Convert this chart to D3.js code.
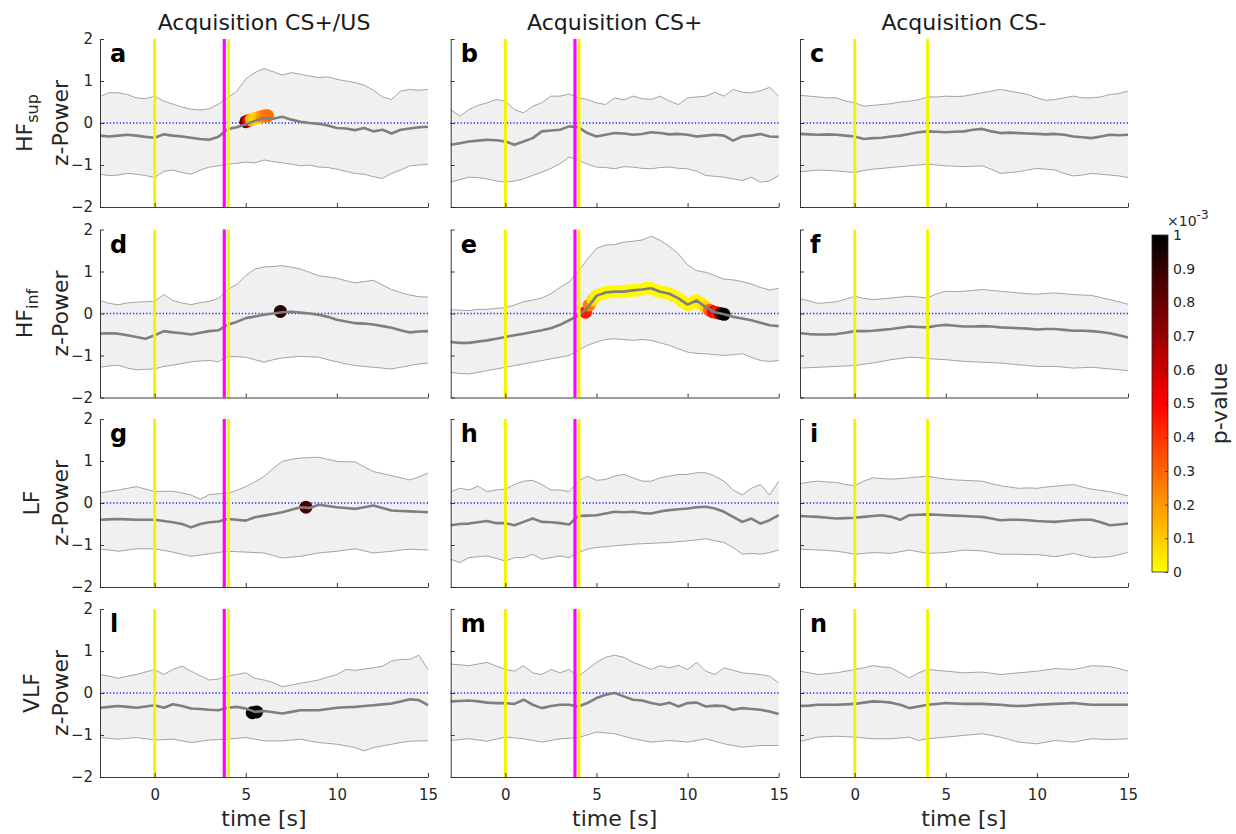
<!DOCTYPE html>
<html><head><meta charset="utf-8">
<script src="https://cdn.jsdelivr.net/npm/d3@7"></script>
<style>body{margin:0;background:#fff;} svg{display:block;font-family:"DejaVu Sans",sans-serif;}</style>
</head><body><svg id="c" width="1236" height="834"></svg>
<script>
// ---------------- data ----------------
const time = [-3,-2.5,-2,-1.5,-1,-0.5,0,0.5,1,1.5,2,2.5,3,3.5,4,4.5,5,5.5,6,6.5,7,7.5,8,8.5,9,9.5,10,10.5,11,11.5,12,12.5,13,13.5,14,14.5,15];
const colTitles = ["Acquisition CS+/US","Acquisition CS+","Acquisition CS-"];
const rowMain = ["HF","HF","LF","VLF"];
const rowSub = ["sup","inf","",""];
const panelLetters = ["a","b","c","d","e","f","g","h","i","l","m","n"];
const yTicks = [-2,-1,0,1,2];
const xTicks = [0,5,10,15];
const cbTicks = [0,0.1,0.2,0.3,0.4,0.5,0.6,0.7,0.8,0.9,1];
const cbTickLabels = ["0","0.1","0.2","0.3","0.4","0.5","0.6","0.7","0.8","0.9","1"];
const csOnset = 0, csOffset = 4, usOnset = 3.82;

const upA = [0.63,0.72,0.72,0.68,0.6,0.58,0.64,0.52,0.45,0.38,0.33,0.31,0.34,0.45,0.6,0.75,1.05,1.2,1.3,1.22,1.14,1.2,1.16,1.12,1.08,1.1,1.04,1.0,0.96,0.9,0.78,0.62,0.56,0.76,0.8,0.78,0.8];
const meanA = [-0.3,-0.32,-0.3,-0.28,-0.3,-0.33,-0.35,-0.27,-0.3,-0.32,-0.35,-0.38,-0.4,-0.33,-0.15,-0.1,-0.03,0.05,0.12,0.1,0.15,0.08,0.03,0.0,-0.02,-0.06,-0.12,-0.13,-0.17,-0.12,-0.2,-0.16,-0.25,-0.16,-0.13,-0.1,-0.09];
const loA = [-1.22,-1.25,-1.24,-1.2,-1.22,-1.25,-1.3,-1.15,-1.12,-1.18,-1.22,-1.12,-1.05,-1.02,-0.98,-0.96,-0.93,-0.95,-0.88,-0.92,-0.95,-0.98,-1.02,-1.0,-1.05,-1.06,-1.1,-1.15,-1.2,-1.22,-1.28,-1.32,-1.2,-1.12,-1.02,-1.0,-0.98];

const upB = [0.32,0.16,0.32,0.42,0.48,0.56,0.52,0.32,0.24,0.4,0.48,0.64,0.64,0.69,0.6,0.56,0.48,0.44,0.6,0.55,0.64,0.58,0.56,0.64,0.52,0.44,0.6,0.62,0.64,0.73,0.64,0.8,0.73,0.72,0.77,0.85,0.64];
const meanB = [-0.52,-0.48,-0.44,-0.42,-0.4,-0.41,-0.44,-0.52,-0.44,-0.36,-0.2,-0.18,-0.16,-0.08,-0.1,-0.24,-0.32,-0.28,-0.24,-0.25,-0.28,-0.26,-0.22,-0.24,-0.27,-0.26,-0.28,-0.32,-0.3,-0.28,-0.3,-0.42,-0.32,-0.3,-0.26,-0.32,-0.33];
const loB = [-1.41,-1.35,-1.29,-1.3,-1.33,-1.38,-1.41,-1.38,-1.33,-1.25,-1.17,-1.08,-0.97,-0.81,-0.89,-0.98,-1.05,-1.06,-1.09,-1.04,-1.05,-1.08,-1.09,-1.06,-1.05,-1.08,-1.09,-1.15,-1.25,-1.27,-1.29,-1.33,-1.37,-1.29,-1.41,-1.38,-1.25];

const upC = [0.66,0.64,0.62,0.6,0.6,0.52,0.48,0.4,0.42,0.44,0.46,0.5,0.52,0.55,0.62,0.62,0.64,0.63,0.64,0.68,0.72,0.76,0.8,0.76,0.72,0.68,0.6,0.54,0.56,0.6,0.64,0.6,0.6,0.62,0.68,0.7,0.76];
const meanC = [-0.26,-0.27,-0.28,-0.27,-0.28,-0.3,-0.32,-0.38,-0.36,-0.35,-0.32,-0.3,-0.26,-0.22,-0.2,-0.21,-0.22,-0.21,-0.2,-0.16,-0.14,-0.2,-0.24,-0.23,-0.24,-0.25,-0.26,-0.27,-0.26,-0.28,-0.32,-0.34,-0.36,-0.32,-0.28,-0.29,-0.28];
const loC = [-1.16,-1.14,-1.12,-1.13,-1.14,-1.16,-1.18,-1.13,-1.1,-1.08,-1.06,-1.04,-1.02,-1.0,-0.98,-1.0,-1.02,-1.03,-1.04,-1.03,-1.02,-1.1,-1.2,-1.18,-1.16,-1.12,-1.08,-1.1,-1.12,-1.2,-1.26,-1.24,-1.2,-1.22,-1.24,-1.26,-1.3];

const upD = [0.31,0.24,0.21,0.25,0.27,0.28,0.29,0.45,0.31,0.25,0.21,0.26,0.29,0.36,0.57,0.69,0.9,1.06,1.11,1.12,1.14,1.1,1.06,0.98,0.9,0.87,0.84,0.78,0.73,0.76,0.79,0.68,0.57,0.5,0.44,0.4,0.39];
const meanD = [-0.48,-0.47,-0.48,-0.52,-0.56,-0.6,-0.52,-0.42,-0.45,-0.47,-0.5,-0.46,-0.42,-0.4,-0.27,-0.2,-0.11,-0.07,-0.03,0.0,0.03,0.04,0.02,0.0,-0.03,-0.08,-0.15,-0.19,-0.23,-0.24,-0.26,-0.3,-0.34,-0.4,-0.45,-0.43,-0.42];
const loD = [-1.28,-1.25,-1.23,-1.3,-1.34,-1.33,-1.32,-1.26,-1.23,-1.19,-1.15,-1.13,-1.12,-1.15,-1.02,-1.03,-1.04,-1.1,-1.16,-1.1,-1.06,-1.04,-1.02,-1.03,-1.04,-1.1,-1.15,-1.2,-1.24,-1.26,-1.28,-1.3,-1.32,-1.28,-1.24,-1.2,-1.18];

const upE = [0.09,0.08,0.07,0.1,0.1,0.12,0.14,0.2,0.28,0.32,0.37,0.47,0.62,0.75,1.0,1.3,1.55,1.63,1.64,1.7,1.72,1.75,1.84,1.74,1.6,1.42,1.16,1.02,0.98,0.9,0.82,0.8,0.76,0.7,0.62,0.56,0.6];
const meanE = [-0.68,-0.7,-0.7,-0.67,-0.64,-0.6,-0.56,-0.52,-0.48,-0.44,-0.4,-0.35,-0.27,-0.16,-0.05,0.13,0.42,0.5,0.52,0.52,0.55,0.57,0.6,0.52,0.47,0.36,0.21,0.31,0.15,0.03,-0.02,-0.08,-0.12,-0.16,-0.22,-0.28,-0.3];
const loE = [-1.4,-1.43,-1.44,-1.4,-1.36,-1.32,-1.28,-1.24,-1.2,-1.16,-1.12,-1.08,-1.04,-1.0,-0.88,-0.76,-0.68,-0.62,-0.6,-0.62,-0.64,-0.62,-0.64,-0.7,-0.76,-0.84,-0.92,-0.95,-0.96,-0.98,-1.0,-0.98,-0.96,-1.04,-1.12,-1.14,-1.12];

const upF = [0.35,0.3,0.24,0.26,0.28,0.34,0.41,0.36,0.33,0.35,0.37,0.39,0.41,0.39,0.37,0.47,0.53,0.52,0.53,0.55,0.57,0.55,0.53,0.51,0.49,0.47,0.46,0.48,0.49,0.47,0.45,0.44,0.43,0.38,0.33,0.28,0.22];
const meanF = [-0.47,-0.49,-0.5,-0.5,-0.49,-0.46,-0.42,-0.42,-0.41,-0.39,-0.37,-0.34,-0.31,-0.32,-0.33,-0.29,-0.27,-0.29,-0.31,-0.31,-0.3,-0.31,-0.33,-0.34,-0.35,-0.36,-0.38,-0.37,-0.37,-0.39,-0.41,-0.41,-0.42,-0.44,-0.47,-0.52,-0.57];
const loF = [-1.3,-1.29,-1.28,-1.27,-1.26,-1.25,-1.24,-1.21,-1.18,-1.14,-1.1,-1.07,-1.04,-1.05,-1.07,-1.09,-1.1,-1.12,-1.14,-1.15,-1.16,-1.17,-1.18,-1.2,-1.22,-1.24,-1.26,-1.26,-1.26,-1.28,-1.3,-1.29,-1.28,-1.3,-1.32,-1.34,-1.36];

const upG = [0.24,0.28,0.31,0.35,0.39,0.33,0.27,0.28,0.28,0.24,0.19,0.09,0.2,0.22,0.23,0.3,0.39,0.5,0.63,0.82,0.99,1.04,1.07,1.08,1.09,1.04,0.99,0.98,0.98,0.86,0.75,0.7,0.65,0.6,0.55,0.62,0.71];
const meanG = [-0.4,-0.39,-0.38,-0.39,-0.4,-0.4,-0.4,-0.43,-0.46,-0.5,-0.58,-0.5,-0.46,-0.44,-0.38,-0.4,-0.42,-0.34,-0.3,-0.26,-0.22,-0.16,-0.1,-0.12,-0.04,-0.07,-0.1,-0.12,-0.14,-0.1,-0.06,-0.12,-0.18,-0.19,-0.2,-0.21,-0.22];
const loG = [-1.1,-1.12,-1.15,-1.12,-1.09,-1.09,-1.09,-1.13,-1.17,-1.22,-1.27,-1.24,-1.21,-1.18,-1.15,-1.16,-1.17,-1.18,-1.19,-1.25,-1.31,-1.29,-1.27,-1.23,-1.19,-1.17,-1.15,-1.12,-1.09,-1.14,-1.19,-1.17,-1.15,-1.12,-1.1,-1.11,-1.12];

const upH = [0.27,0.35,0.31,0.4,0.27,0.31,0.33,0.44,0.52,0.54,0.44,0.31,0.31,0.27,0.52,0.64,0.54,0.56,0.64,0.68,0.6,0.52,0.52,0.6,0.64,0.68,0.68,0.72,0.72,0.64,0.52,0.31,0.19,0.35,0.44,0.19,0.52];
const meanH = [-0.53,-0.5,-0.49,-0.46,-0.43,-0.48,-0.48,-0.53,-0.45,-0.37,-0.45,-0.46,-0.48,-0.51,-0.31,-0.3,-0.29,-0.25,-0.21,-0.22,-0.21,-0.24,-0.25,-0.2,-0.17,-0.15,-0.13,-0.1,-0.09,-0.13,-0.21,-0.33,-0.45,-0.37,-0.49,-0.41,-0.29];
const loH = [-1.34,-1.42,-1.3,-1.28,-1.26,-1.32,-1.38,-1.3,-1.3,-1.22,-1.34,-1.3,-1.26,-1.3,-1.18,-1.1,-1.06,-1.04,-1.02,-1.0,-0.98,-0.97,-0.96,-0.95,-0.94,-0.92,-0.9,-0.88,-0.85,-0.9,-0.94,-1.06,-1.22,-1.2,-1.22,-1.18,-1.12];

const upI = [0.46,0.5,0.52,0.5,0.49,0.44,0.41,0.52,0.6,0.58,0.57,0.58,0.6,0.62,0.64,0.6,0.57,0.55,0.54,0.53,0.52,0.46,0.41,0.38,0.35,0.36,0.35,0.38,0.4,0.42,0.44,0.38,0.33,0.3,0.27,0.22,0.17];
const meanI = [-0.31,-0.32,-0.33,-0.35,-0.37,-0.36,-0.35,-0.33,-0.31,-0.29,-0.33,-0.4,-0.29,-0.28,-0.27,-0.28,-0.29,-0.3,-0.31,-0.32,-0.33,-0.37,-0.41,-0.4,-0.4,-0.41,-0.43,-0.44,-0.45,-0.43,-0.41,-0.4,-0.4,-0.46,-0.53,-0.51,-0.49];
const loI = [-1.1,-1.11,-1.12,-1.13,-1.15,-1.18,-1.22,-1.2,-1.18,-1.19,-1.2,-1.16,-1.12,-1.16,-1.2,-1.19,-1.18,-1.15,-1.12,-1.13,-1.14,-1.18,-1.22,-1.22,-1.22,-1.23,-1.23,-1.25,-1.28,-1.24,-1.2,-1.25,-1.3,-1.29,-1.28,-1.23,-1.18];

const upL = [0.44,0.4,0.35,0.4,0.44,0.5,0.56,0.44,0.56,0.64,0.52,0.41,0.31,0.33,0.4,0.44,0.48,0.35,0.31,0.25,0.15,0.19,0.23,0.27,0.31,0.38,0.44,0.56,0.54,0.57,0.6,0.64,0.76,0.8,0.8,0.9,0.56];
const meanL = [-0.35,-0.33,-0.31,-0.33,-0.35,-0.32,-0.29,-0.35,-0.27,-0.31,-0.37,-0.38,-0.4,-0.41,-0.35,-0.33,-0.37,-0.45,-0.43,-0.46,-0.49,-0.45,-0.41,-0.41,-0.41,-0.38,-0.35,-0.34,-0.33,-0.31,-0.29,-0.27,-0.25,-0.2,-0.15,-0.17,-0.29];
const loL = [-1.06,-1.08,-1.1,-1.08,-1.06,-1.09,-1.12,-1.11,-1.1,-1.14,-1.18,-1.15,-1.12,-1.11,-1.1,-1.08,-1.06,-1.1,-1.14,-1.14,-1.14,-1.12,-1.1,-1.14,-1.18,-1.2,-1.22,-1.26,-1.3,-1.38,-1.3,-1.26,-1.22,-1.18,-1.15,-1.14,-1.14];

const upM = [0.69,0.67,0.65,0.69,0.73,0.64,0.56,0.52,0.65,0.48,0.44,0.56,0.48,0.56,0.4,0.56,0.73,0.85,0.9,0.85,0.73,0.65,0.56,0.65,0.6,0.66,0.56,0.73,0.52,0.44,0.6,0.54,0.48,0.46,0.44,0.4,0.24];
const meanM = [-0.2,-0.19,-0.18,-0.2,-0.23,-0.24,-0.24,-0.26,-0.16,-0.28,-0.36,-0.31,-0.28,-0.28,-0.32,-0.24,-0.12,-0.04,0.0,-0.08,-0.16,-0.18,-0.24,-0.28,-0.23,-0.32,-0.24,-0.23,-0.32,-0.3,-0.31,-0.4,-0.36,-0.38,-0.4,-0.44,-0.5];
const loM = [-1.13,-1.11,-1.09,-1.12,-1.15,-1.1,-1.05,-1.07,-1.09,-1.13,-1.17,-1.13,-1.09,-1.08,-1.06,-1.0,-0.93,-0.95,-0.97,-1.03,-1.09,-1.13,-1.17,-1.15,-1.13,-1.15,-1.17,-1.13,-1.09,-1.15,-1.21,-1.25,-1.29,-1.27,-1.25,-1.25,-1.25];

const upN = [0.52,0.48,0.44,0.46,0.48,0.52,0.56,0.6,0.65,0.62,0.6,0.48,0.36,0.48,0.56,0.54,0.52,0.5,0.48,0.49,0.5,0.47,0.44,0.46,0.48,0.5,0.52,0.55,0.58,0.57,0.56,0.6,0.65,0.64,0.63,0.58,0.52];
const meanN = [-0.31,-0.3,-0.28,-0.28,-0.28,-0.27,-0.26,-0.23,-0.2,-0.21,-0.23,-0.28,-0.36,-0.32,-0.28,-0.26,-0.24,-0.25,-0.26,-0.26,-0.26,-0.27,-0.28,-0.3,-0.31,-0.3,-0.28,-0.27,-0.26,-0.25,-0.24,-0.26,-0.28,-0.28,-0.28,-0.28,-0.28];
const loN = [-1.15,-1.1,-1.05,-1.04,-1.03,-1.04,-1.05,-1.07,-1.09,-1.09,-1.09,-1.07,-1.05,-1.13,-1.09,-1.07,-1.05,-1.03,-1.01,-0.99,-0.97,-1.01,-1.05,-1.11,-1.17,-1.19,-1.21,-1.17,-1.13,-1.15,-1.17,-1.13,-1.09,-1.1,-1.11,-1.1,-1.09];

// significant samples: time, value, p-value (x1e-3)
const sigA_t = [5.0,5.15,5.3,5.45,5.6,5.75,5.9,6.05,6.2];
const sigA_y = [0.03,0.06,0.08,0.1,0.12,0.14,0.16,0.17,0.17];
const sigA_p = [0.8,0.55,0.12,0.1,0.08,0.12,0.2,0.25,0.28];
const sigD_t = [6.9], sigD_y = [0.05], sigD_p = [0.92];
const sigE_t = [4.4,4.6,4.8,5.0,5.25,5.5,5.75,6.0,6.25,6.5,6.75,7.0,7.25,7.5,7.75,8.0,8.25,8.5,8.75,9.0,9.25,9.5,9.75,10.0,10.25,10.5,10.75,11.0,11.2,11.4,11.6,11.8,12.0];
const sigE_y = [0.03,0.2,0.33,0.42,0.47,0.5,0.51,0.52,0.53,0.52,0.54,0.55,0.56,0.57,0.6,0.6,0.55,0.52,0.5,0.47,0.42,0.36,0.28,0.21,0.25,0.31,0.24,0.15,0.08,0.04,0.02,0.0,-0.02];
const sigE_p = [0.45,0.25,0.06,0.03,0.02,0.01,0.01,0.01,0.01,0.01,0.01,0.01,0.01,0.01,0.01,0.01,0.01,0.01,0.01,0.01,0.01,0.01,0.02,0.02,0.02,0.02,0.03,0.08,0.3,0.5,0.45,0.85,1.0];
const sigG_t = [8.3], sigG_y = [-0.1], sigG_p = [0.85];
const sigL_t = [5.35,5.6], sigL_y = [-0.47,-0.45], sigL_p = [1.0,0.98];

// ---------------- build ----------------
const panels = [
  {up:upA, mean:meanA, lo:loA, sig:[sigA_t,sigA_y,sigA_p], us:true},
  {up:upB, mean:meanB, lo:loB, sig:null, us:true},
  {up:upC, mean:meanC, lo:loC, sig:null, us:false},
  {up:upD, mean:meanD, lo:loD, sig:[sigD_t,sigD_y,sigD_p], us:true},
  {up:upE, mean:meanE, lo:loE, sig:[sigE_t,sigE_y,sigE_p], us:true},
  {up:upF, mean:meanF, lo:loF, sig:null, us:false},
  {up:upG, mean:meanG, lo:loG, sig:[sigG_t,sigG_y,sigG_p], us:true},
  {up:upH, mean:meanH, lo:loH, sig:null, us:true},
  {up:upI, mean:meanI, lo:loI, sig:null, us:false},
  {up:upL, mean:meanL, lo:loL, sig:[sigL_t,sigL_y,sigL_p], us:true},
  {up:upM, mean:meanM, lo:loM, sig:null, us:true},
  {up:upN, mean:meanN, lo:loN, sig:null, us:false}
];

const svg = d3.select("#c");
const colX = [100, 450.7, 800], rowY = [39, 229.5, 419, 609];
const PW = 328, PH = 168;
const TXT = "#262626";
const x = d3.scaleLinear().domain([-3,15]).range([0,PW]);
const y = d3.scaleLinear().domain([-2,2]).range([PH,0]);
const pcol = d3.scaleLinear().domain([0,0.5,1]).range(["#ffff00","#ff0000","#000000"]);

panels.forEach((P, k) => {
  const r = Math.floor(k/3), c = k%3;
  const g = svg.append("g").attr("transform", `translate(${colX[c]},${rowY[r]})`);
  const idx = d3.range(time.length);
  g.append("path").datum(idx)
    .attr("d", d3.area().x(i => x(time[i])).y0(i => y(P.lo[i])).y1(i => y(P.up[i])))
    .attr("fill", "#f0f0f0");
  const line = arr => d3.line().x(i => x(time[i])).y(i => y(arr[i]));
  g.append("path").datum(idx).attr("d", line(P.up)).attr("fill","none").attr("stroke","#8e8e8e").attr("stroke-width",0.8);
  g.append("path").datum(idx).attr("d", line(P.lo)).attr("fill","none").attr("stroke","#8e8e8e").attr("stroke-width",0.8);
  g.append("line").attr("x1", x(-3)).attr("x2", x(15)).attr("y1", y(0)).attr("y2", y(0))
    .attr("stroke","#1a1aff").attr("stroke-width",1.3).attr("stroke-dasharray","1.2,2.1");
  if (P.sig) {
    const [st, sy, sp] = P.sig;
    g.selectAll("circle.sig").data(d3.range(st.length)).join("circle")
      .attr("cx", i => x(st[i])).attr("cy", i => y(sy[i])).attr("r", 6.5)
      .attr("fill", i => pcol(sp[i]));
  }
  g.append("path").datum(idx).attr("d", line(P.mean)).attr("fill","none")
    .attr("stroke","#7f7f7f").attr("stroke-width",2.6).attr("stroke-linejoin","round");
  // event lines
  if (P.us) {
    g.append("line").attr("x1", x(usOnset)).attr("x2", x(usOnset)).attr("y1", 0).attr("y2", PH)
      .attr("stroke","#ff00ff").attr("stroke-width",3.2);
  }
  [csOnset, csOffset].forEach(t => {
    g.append("line").attr("x1", x(t)+(t===csOffset && P.us ? 0.8 : 0)).attr("x2", x(t)+(t===csOffset && P.us ? 0.8 : 0))
      .attr("y1", 0).attr("y2", PH).attr("stroke","#f4f400").attr("stroke-width",3);
  });
  // axes
  const ya = g.append("g").call(d3.axisLeft(y).tickValues(yTicks).tickSizeInner(-4).tickSizeOuter(0).tickPadding(7)
      .tickFormat(c === 0 ? d3.format("d") : () => ""));
  const xa = g.append("g").attr("transform", `translate(0,${PH})`)
    .call(d3.axisBottom(x).tickValues(xTicks).tickSizeInner(-4).tickSizeOuter(0).tickPadding(12)
      .tickFormat(r === 3 ? d3.format("d") : () => ""));
  [ya, xa].forEach(a => {
    a.select(".domain").attr("stroke", TXT).attr("stroke-width", 0.9);
    a.selectAll(".tick line").attr("stroke", TXT).attr("stroke-width", 0.9);
    a.selectAll(".tick text").attr("fill", TXT).attr("font-size", 15).attr("font-family", "DejaVu Sans");
  });
  // panel letter
  g.append("text").attr("x", 10).attr("y", 23).text(panelLetters[k])
    .attr("font-size", 24).attr("font-weight", "bold").attr("fill", "#000");
  if (r === 3) {
    g.append("text").attr("x", PW/2).attr("y", 217).attr("text-anchor","middle")
      .attr("font-size", 22).attr("fill", TXT).text("time [s]");
  }
});

// column titles
colTitles.forEach((t, c) => {
  svg.append("text").attr("x", colX[c] + PW/2).attr("y", 30).attr("text-anchor","middle")
    .attr("font-size", 22).attr("fill", "#1a1a1a").text(t);
});

// row labels
rowMain.forEach((t, r) => {
  const cy = rowY[r] + PH/2;
  const bx = rowSub[r] ? 32 : 39;
  const tx = svg.append("text").attr("transform", `translate(${bx},${cy}) rotate(-90)`)
    .attr("text-anchor","middle").attr("font-size", 22).attr("fill", TXT);
  tx.append("tspan").text(t);
  if (rowSub[r]) tx.append("tspan").attr("font-size", 16).attr("dy", 6).text(rowSub[r]);
  svg.append("text").attr("transform", `translate(68,${cy}) rotate(-90)`)
    .attr("text-anchor","middle").attr("font-size", 22).attr("fill", TXT).text("z-Power");
});

// colorbar
const cbX = 1152, cbW = 16, cbTop = 235, cbBot = 572;
const defs = svg.append("defs");
const grad = defs.append("linearGradient").attr("id","cbg").attr("x1",0).attr("y1",1).attr("x2",0).attr("y2",0);
[0,0.5,1].forEach(v => grad.append("stop").attr("offset", v*100 + "%").attr("stop-color", pcol(v)));
svg.append("rect").attr("x", cbX).attr("y", cbTop).attr("width", cbW).attr("height", cbBot-cbTop)
  .attr("fill","url(#cbg)").attr("stroke", TXT).attr("stroke-width", 0.8);
const cbScale = d3.scaleLinear().domain([0,1]).range([cbBot, cbTop]);
const cba = svg.append("g").attr("transform", `translate(${cbX+cbW},0)`)
  .call(d3.axisRight(cbScale).tickValues(cbTicks).tickSizeInner(-3).tickSizeOuter(0).tickPadding(5)
    .tickFormat((d,i) => cbTickLabels[i]));
cba.select(".domain").remove();
cba.selectAll(".tick line").attr("stroke", TXT).attr("stroke-width", 0.8);
cba.selectAll(".tick text").attr("fill", TXT).attr("font-size", 14).attr("font-family","DejaVu Sans");
const ex = svg.append("text").attr("x", 1167).attr("y", 226).attr("font-size", 14).attr("fill", TXT);
ex.append("tspan").text("\u00d710");
ex.append("tspan").attr("font-size", 12).attr("dy", -7).text("-3");
svg.append("text").attr("transform", `translate(1227,${(cbTop+cbBot)/2}) rotate(-90)`)
  .attr("text-anchor","middle").attr("font-size", 22).attr("fill", TXT).text("p-value");
</script>
</body></html>
